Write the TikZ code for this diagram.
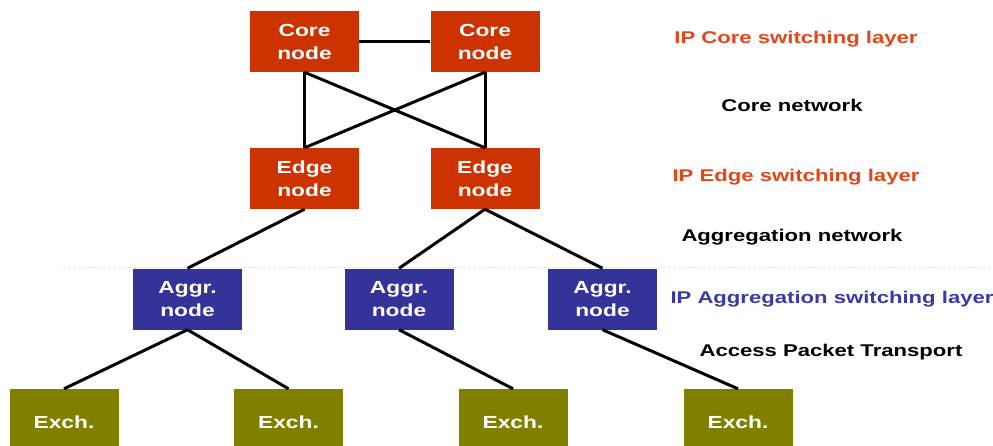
\documentclass[tikz,border=0pt]{standalone}
\usepackage{fontspec}
\setmainfont{Liberation Sans}[FakeStretch=1.3]
\definecolor{corered}{HTML}{CC3300}
\definecolor{labred}{HTML}{E4461A}
\definecolor{aggblue}{HTML}{333399}
\definecolor{labblue}{HTML}{3A3AA6}
\definecolor{olive}{HTML}{808000}
\tikzset{
  box/.style={draw=none, minimum width=109pt, minimum height=61pt, inner sep=0pt,
    text=white, font=\fontsize{17.5}{23}\selectfont\bfseries, align=center},
  corebox/.style={box, fill=corered},
  aggbox/.style={box, fill=aggblue},
  exbox/.style={box, fill=olive, minimum height=66pt},
  link/.style={line width=3pt, black},
  lab/.style={font=\fontsize{17}{20}\selectfont\bfseries, inner sep=0pt}
}
\begin{document}
\begin{tikzpicture}[x=1pt, y=-1pt]
\useasboundingbox (0,0) rectangle (993,445);
\clip (0,0) rectangle (993,445);
% separator
\draw[gray!20, line width=1pt, dash pattern=on 3pt off 2pt] (63,267) -- (993,267);
% nodes
\node[corebox] (c1) at (304.5,41.5) {Core\\node};
\node[corebox] (c2) at (485,41.5) {Core\\node};
\node[corebox] (e1) at (304.5,178.5) {Edge\\node};
\node[corebox] (e2) at (485,178.5) {Edge\\node};
\node[aggbox] (a1) at (187.5,299) {Aggr.\\node};
\node[aggbox] (a2) at (399,299) {Aggr.\\node};
\node[aggbox] (a3) at (602.5,299) {Aggr.\\node};
\node[exbox] (x1) at (64,422) {Exch.};
\node[exbox] (x2) at (288.5,422) {Exch.};
\node[exbox] (x3) at (513,422) {Exch.};
\node[exbox] (x4) at (738,422) {Exch.};
% links
\draw[link] (c1.east) -- (c2.west);
\draw[link] (c1.south) -- (e1.north);
\draw[link] (c1.south) -- (e2.north);
\draw[link] (c2.south) -- (e1.north);
\draw[link] (c2.south) -- (e2.north);
\draw[link] (e1.south) -- (a1.north);
\draw[link] (e2.south) -- (a2.north);
\draw[link] (e2.south) -- (a3.north);
\draw[link] (a1.south) -- (x1.north);
\draw[link] (a1.south) -- (x2.north);
\draw[link] (a2.south) -- (x3.north);
\draw[link] (a3.south) -- (x4.north);
% labels
\node[lab, text=labred] (l1) at (796,39) {IP Core switching layer};
\node[lab] (l2) at (792,105) {Core network};
\node[lab, text=labred] (l3) at (796,177) {IP Edge switching layer};
\node[lab] (l4) at (792,237) {Aggregation network};
\node[lab, text=labblue] (l5) at (832,299) {IP Aggregation switching layer};
\node[lab] (l6) at (831,352) {Access Packet Transport};
\end{tikzpicture}
\end{document}
